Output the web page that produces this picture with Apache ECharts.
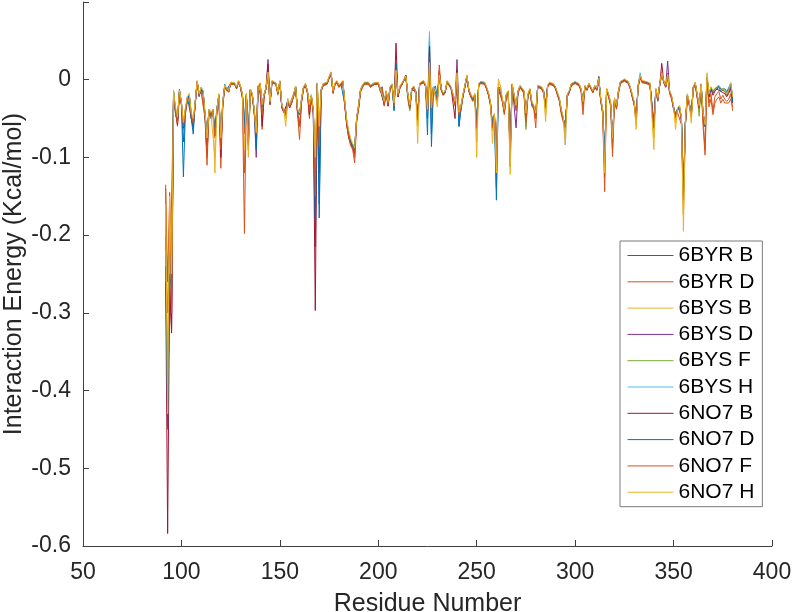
<!DOCTYPE html>
<html>
<head>
<meta charset="utf-8">
<script src="https://cdn.jsdelivr.net/npm/echarts@6/dist/echarts.min.js"></script>
<style>
  html, body { margin: 0; padding: 0; background: #fff; }
  #chart { width: 793px; height: 612px; }
</style>
</head>
<body>
<div id="chart"></div>
<script>
// residues run consecutively from 92 to 380
const firstResidue = 92

const seriesNames = ['6BYR B', '6BYR D', '6BYS B', '6BYS D', '6BYS F', '6BYS H', '6NO7 B', '6NO7 D', '6NO7 F', '6NO7 H']

const byrB = [-.21,-.247,-.22,-.16,
  -.018,-.045,-.055,-.012,-.03,-.125,-.042,-.022,-.02,-.05,
  -.07,-.028,-.004,-.022,-.01,-.014,-.048,-.065,-.042,-.05,
  -.038,-.065,-.036,-.022,-.075,-.028,-.006,-.012,-.014,-.005,
  -.006,-.004,-.012,-.002,-.01,-.022,-.05,-.018,-.075,-.012,
  -.018,-.04,-.065,-.008,-.006,-.03,-.018,-.012,.01,-.028,
  -.003,-.004,-.006,-.018,-.003,-.036,-.042,-.045,-.028,-.032,
  -.03,-.018,-.01,-.038,-.042,-.028,-.012,-.005,-.016,-.03,
  -.02,-.045,-.215,-.006,-.178,-.015,-.005,-.006,-.004,.002,
  .008,-.016,-.006,-.003,-.009,-.005,-.003,-.032,-.058,-.068,
  -.082,-.08,-.085,-.052,-.032,-.012,-.007,-.004,-.006,-.004,
  -.007,-.006,-.004,-.005,-.005,-.013,-.009,-.032,-.016,-.028,
  -.01,-.007,-.04,.021,-.022,-.01,-.006,-.004,.003,-.018,
  -.033,-.012,-.01,-.016,-.045,-.006,-.004,-.002,-.008,-.071,
  .055,-.086,-.012,-.008,-.022,.004,-.013,-.02,-.016,-.003,
  -.007,-.011,-.012,-.028,.007,-.06,-.038,-.022,-.009,.004,
  -.014,-.022,-.026,-.018,-.055,-.007,-.003,-.003,-.005,-.012,
  -.02,-.032,-.058,-.048,-.155,-.012,-.009,-.028,-.042,-.022,
  -.016,-.09,-.007,-.006,-.038,-.016,-.009,-.011,-.016,-.042,
  -.022,-.013,-.032,-.033,-.04,-.009,-.007,-.011,-.016,-.032,
  -.009,-.005,-.004,-.007,-.011,-.013,-.027,-.042,-.052,-.065,
  -.022,-.016,-.007,-.005,-.004,-.005,-.007,-.013,-.028,-.009,
  -.013,-.006,-.011,-.016,-.009,-.013,.004,-.027,-.042,-.095,
  -.014,-.022,-.032,-.07,-.027,-.033,-.016,-.004,-.003,-.001,
  -.002,-.004,-.011,-.022,-.032,-.048,-.009,.004,-.003,-.004,
  -.004,-.005,-.006,-.007,-.055,-.014,-.027,-.006,.006,-.003,
  -.009,.005,-.016,-.024,-.038,-.046,-.04,-.036,-.052,-.14,
  -.058,-.022,-.032,-.043,-.012,-.005,-.022,-.036,-.008,-.044,
  -.055,.002,-.022,-.012,-.017,-.014,-.012,-.01,-.015,-.014,
  -.012,-.018,-.02,-.008,-.03]

const byrD = [-.135,-.45,-.145,-.3,
  -.02,-.038,-.06,-.018,-.032,-.055,-.045,-.028,-.022,-.048,
  -.06,-.032,-.003,-.018,-.015,-.016,-.05,-.11,-.038,-.042,
  -.045,-.075,-.042,-.02,-.114,-.035,-.01,-.014,-.016,-.006,
  -.007,-.006,-.011,-.003,-.01,-.025,-.198,-.022,-.07,-.015,
  -.022,-.045,-.06,-.01,-.006,-.064,-.022,-.011,.006,-.032,
  -.004,-.005,-.006,-.016,-.004,-.035,-.04,-.048,-.03,-.036,
  -.03,-.022,-.012,-.045,-.077,-.03,-.012,-.008,-.018,-.05,
  -.025,-.04,-.12,-.008,-.08,-.015,-.008,-.006,-.006,.001,
  .006,-.018,-.007,-.004,-.01,-.008,-.004,-.035,-.06,-.075,
  -.085,-.09,-.107,-.055,-.038,-.016,-.01,-.006,-.007,-.006,
  -.01,-.008,-.006,-.006,-.006,-.015,-.012,-.034,-.018,-.034,
  -.012,-.008,-.032,.012,-.022,-.011,-.007,-.006,.006,-.022,
  -.038,-.015,-.011,-.018,-.055,-.007,-.005,-.004,-.009,-.045,
  .018,-.045,-.012,-.01,-.028,.019,-.014,-.02,-.017,-.004,
  -.008,-.012,-.012,-.034,.005,-.048,-.04,-.022,-.01,.003,
  -.015,-.022,-.028,-.022,-.065,-.008,-.005,-.004,-.006,-.012,
  -.02,-.034,-.065,-.05,-.11,-.012,-.01,-.028,-.045,-.024,
  -.018,-.095,-.008,-.007,-.04,-.018,-.01,-.012,-.018,-.06,
  -.022,-.014,-.034,-.038,-.062,-.01,-.008,-.012,-.018,-.038,
  -.01,-.006,-.006,-.008,-.012,-.014,-.028,-.045,-.055,-.062,
  -.022,-.017,-.008,-.006,-.005,-.006,-.008,-.015,-.045,-.01,
  -.014,-.007,-.012,-.017,-.01,-.014,-.002,-.028,-.045,-.144,
  -.015,-.022,-.034,-.099,-.028,-.038,-.018,-.005,-.004,-.002,
  -.003,-.005,-.012,-.022,-.033,-.055,-.01,.002,-.004,-.005,
  -.005,-.006,-.007,-.008,-.065,-.015,-.028,-.007,.01,-.004,
  -.01,.003,-.018,-.025,-.038,-.05,-.042,-.04,-.058,-.174,
  -.06,-.025,-.034,-.048,-.013,-.006,-.024,-.038,-.01,-.05,
  -.09,.001,-.03,-.018,-.04,-.022,-.018,-.015,-.025,-.02,
  -.025,-.028,-.025,-.018,-.04]

const bysB = [-.17,-.43,-.2,-.25,
  -.014,-.042,-.048,-.015,-.028,-.058,-.038,-.024,-.018,-.044,
  -.052,-.03,-.002,-.02,-.012,-.016,-.044,-.086,-.04,-.044,
  -.042,-.1,-.04,-.018,-.078,-.03,-.008,-.012,-.015,-.004,
  -.005,-.005,-.01,-.002,-.008,-.02,-.07,-.02,-.085,-.012,
  -.02,-.042,-.072,-.009,-.004,-.036,-.02,-.01,.008,-.03,
  -.002,-.003,-.005,-.018,-.002,-.034,-.04,-.05,-.026,-.034,
  -.028,-.02,-.009,-.04,-.045,-.026,-.01,-.006,-.015,-.034,
  -.021,-.04,-.13,-.005,-.07,-.013,-.006,-.005,-.004,.003,
  .008,-.015,-.005,-.002,-.008,-.006,-.002,-.03,-.055,-.068,
  -.078,-.085,-.092,-.05,-.034,-.013,-.008,-.004,-.005,-.004,
  -.008,-.006,-.005,-.004,-.004,-.012,-.01,-.03,-.015,-.03,
  -.01,-.006,-.034,.01,-.02,-.009,-.005,-.004,.004,-.02,
  -.035,-.012,-.009,-.015,-.06,-.005,-.003,-.002,-.007,-.04,
  .02,-.04,-.01,-.008,-.03,.005,-.012,-.018,-.015,-.002,
  -.006,-.01,-.01,-.03,.008,-.045,-.035,-.02,-.008,.005,
  -.013,-.02,-.025,-.02,-.08,-.006,-.003,-.002,-.004,-.01,
  -.018,-.03,-.065,-.045,-.1,-.005,-.008,-.025,-.04,-.02,
  -.015,-.105,-.006,-.005,-.035,-.015,-.008,-.01,-.015,-.045,
  -.02,-.012,-.03,-.035,-.045,-.008,-.006,-.01,-.015,-.045,
  -.008,-.004,-.004,-.006,-.01,-.012,-.025,-.04,-.05,-.07,
  -.02,-.015,-.006,-.004,-.003,-.004,-.006,-.012,-.03,-.008,
  -.012,-.005,-.01,-.015,-.008,-.012,.001,-.025,-.04,-.11,
  -.012,-.02,-.03,-.075,-.025,-.035,-.015,-.003,-.002,0,
  -.001,-.003,-.01,-.02,-.03,-.058,-.008,.005,-.002,-.003,
  -.003,-.004,-.005,-.006,-.075,-.012,-.025,-.005,.008,-.002,
  -.008,.006,-.015,-.022,-.035,-.055,-.038,-.035,-.05,-.17,
  -.055,-.02,-.03,-.05,-.01,-.004,-.02,-.035,-.006,-.045,
  -.06,.006,-.02,-.01,-.015,-.012,-.01,-.008,-.012,-.012,
  -.015,-.02,-.015,-.005,-.03]

const bysD = [-.2,-.44,-.26,-.32,
  -.016,-.04,-.052,-.014,-.03,-.062,-.04,-.026,-.02,-.046,
  -.056,-.03,-.002,-.021,-.012,-.015,-.046,-.07,-.04,-.046,
  -.04,-.072,-.04,-.02,-.082,-.03,-.008,-.012,-.015,-.004,
  -.006,-.005,-.01,-.002,-.009,-.02,-.06,-.02,-.09,-.013,
  -.02,-.04,-.1,-.009,-.005,-.035,-.02,-.01,.026,-.03,
  -.002,-.003,-.005,-.017,-.002,-.034,-.04,-.043,-.026,-.034,
  -.028,-.02,-.009,-.04,-.045,-.026,-.01,-.006,-.015,-.034,
  -.021,-.04,-.12,-.005,-.08,-.013,-.006,-.005,-.004,.003,
  .01,-.015,-.005,-.002,-.008,-.006,-.002,-.03,-.055,-.07,
  -.08,-.085,-.09,-.05,-.034,-.013,-.008,-.004,-.005,-.004,
  -.008,-.006,-.005,-.004,-.004,-.012,-.01,-.03,-.015,-.03,
  -.01,-.006,-.035,.015,-.02,-.009,-.005,-.004,.004,-.02,
  -.035,-.012,-.009,-.015,-.05,-.005,-.003,-.002,-.007,-.04,
  .02,-.04,-.01,-.008,-.025,.005,-.012,-.018,-.015,-.002,
  -.006,-.01,-.01,-.03,.026,-.045,-.035,-.02,-.008,.005,
  -.013,-.02,-.025,-.02,-.06,-.006,-.003,-.002,-.004,-.01,
  -.018,-.03,-.06,-.045,-.1,-.01,-.008,-.025,-.04,-.02,
  -.015,-.112,-.006,-.005,-.062,-.015,-.008,-.01,-.015,-.045,
  -.02,-.012,-.03,-.035,-.045,-.008,-.006,-.01,-.015,-.035,
  -.008,-.004,-.004,-.006,-.01,-.012,-.025,-.04,-.05,-.06,
  -.02,-.015,-.006,-.004,-.003,-.004,-.006,-.012,-.03,-.008,
  -.012,-.005,-.01,-.015,-.008,-.012,.001,-.025,-.04,-.1,
  -.012,-.02,-.03,-.075,-.025,-.035,-.015,-.003,-.002,0,
  -.001,-.003,-.01,-.02,-.03,-.05,-.008,.005,-.002,-.003,
  -.003,-.004,-.005,-.006,-.06,-.012,-.025,-.005,.008,-.002,
  -.008,.024,-.015,-.022,-.035,-.045,-.038,-.035,-.05,-.15,
  -.055,-.02,-.03,-.045,-.01,-.004,-.02,-.035,-.006,-.045,
  -.06,.003,-.02,-.01,-.015,-.012,-.01,-.008,-.012,-.012,
  -.015,-.02,-.015,-.005,-.025]

const bysF = [-.19,-.3,-.22,-.27,
  -.015,-.04,-.05,-.015,-.03,-.06,-.04,-.025,-.02,-.045,
  -.055,-.03,-.002,-.02,-.012,-.015,-.045,-.07,-.04,-.045,
  -.04,-.07,-.04,-.02,-.08,-.03,-.008,-.012,-.015,-.004,
  -.006,-.005,-.01,-.002,-.009,-.02,-.06,-.02,-.08,-.013,
  -.02,-.04,-.07,-.009,-.005,-.035,-.02,-.01,.009,-.03,
  -.002,-.003,-.005,-.02,-.002,-.034,-.04,-.043,-.026,-.034,
  -.028,-.02,-.009,-.04,-.045,-.026,-.01,-.006,-.015,-.034,
  -.021,-.04,-.11,-.005,-.07,-.013,-.006,-.005,-.004,.003,
  .009,-.015,-.005,-.002,-.008,-.006,-.002,-.03,-.055,-.07,
  -.08,-.085,-.09,-.05,-.034,-.013,-.008,-.004,-.005,-.004,
  -.008,-.006,-.005,-.004,-.004,-.012,-.01,-.03,-.015,-.03,
  -.01,-.006,-.035,.01,-.02,-.009,-.005,-.004,.004,-.026,
  -.04,-.012,-.009,-.015,-.05,-.005,-.003,-.002,-.007,-.04,
  .02,-.04,-.01,-.008,-.025,.005,-.012,-.018,-.015,-.002,
  -.006,-.01,-.01,-.03,.008,-.045,-.035,-.02,-.008,.005,
  -.013,-.02,-.025,-.02,-.06,-.006,-.003,-.002,-.004,-.01,
  -.018,-.03,-.06,-.045,-.1,-.01,-.008,-.025,-.04,-.02,
  -.015,-.09,-.006,-.005,-.035,-.015,-.008,-.01,-.015,-.064,
  -.02,-.012,-.03,-.035,-.045,-.008,-.006,-.01,-.015,-.035,
  -.008,-.004,-.004,-.006,-.01,-.012,-.025,-.04,-.05,-.06,
  -.02,-.015,-.006,-.004,-.003,-.004,-.006,-.012,-.03,-.008,
  -.012,-.005,-.01,-.015,-.008,-.012,.001,-.025,-.04,-.1,
  -.012,-.02,-.03,-.075,-.025,-.035,-.015,-.003,-.002,0,
  -.001,-.003,-.01,-.02,-.03,-.05,-.008,.005,-.002,-.003,
  -.003,-.004,-.005,-.006,-.06,-.012,-.025,-.005,.008,-.002,
  -.008,.006,-.015,-.022,-.035,-.045,-.038,-.035,-.05,-.15,
  -.055,-.02,-.03,-.045,-.01,-.004,-.02,-.047,-.006,-.045,
  -.06,.003,-.02,-.01,-.015,-.012,-.01,-.008,-.012,-.012,
  -.015,-.02,-.015,-.005,-.025]

const bysH = [-.22,-.26,-.18,-.28,
  -.017,-.042,-.05,-.016,-.03,-.065,-.042,-.025,-.02,-.048,
  -.058,-.03,-.003,-.02,-.012,-.015,-.045,-.068,-.04,-.045,
  -.04,-.068,-.04,-.02,-.078,-.03,-.008,-.012,-.015,-.004,
  -.006,-.005,-.01,-.002,-.009,-.02,-.055,-.02,-.078,-.013,
  -.02,-.04,-.068,-.009,-.005,-.035,-.02,-.01,.01,-.03,
  -.002,-.003,-.005,-.017,-.002,-.034,-.04,-.043,-.026,-.034,
  -.028,-.02,-.009,-.04,-.045,-.026,-.01,-.006,-.015,-.034,
  -.021,-.04,-.12,-.005,-.075,-.013,-.006,-.005,-.004,.003,
  .009,-.015,-.005,-.002,-.008,-.006,-.002,-.03,-.055,-.07,
  -.08,-.085,-.09,-.05,-.034,-.013,-.008,-.004,-.005,-.004,
  -.008,-.006,-.005,-.004,-.004,-.012,-.01,-.03,-.015,-.03,
  -.01,-.006,-.035,.015,-.02,-.009,-.005,-.004,.004,-.02,
  -.035,-.012,-.009,-.015,-.05,-.005,-.003,-.002,-.007,-.05,
  .062,-.05,-.01,-.008,-.025,.005,-.012,-.018,-.015,-.002,
  -.006,-.01,-.01,-.03,.008,-.045,-.035,-.02,-.008,.005,
  -.013,-.02,-.025,-.02,-.06,-.006,-.003,-.002,-.004,-.01,
  -.018,-.03,-.06,-.045,-.12,-.01,-.008,-.025,-.04,-.02,
  -.015,-.095,-.006,-.005,-.035,-.015,-.008,-.01,-.015,-.045,
  -.02,-.012,-.03,-.035,-.045,-.008,-.006,-.01,-.015,-.035,
  -.008,-.004,-.004,-.006,-.01,-.012,-.025,-.04,-.05,-.084,
  -.02,-.015,-.006,-.004,-.003,-.004,-.006,-.012,-.03,-.008,
  -.012,-.005,-.01,-.015,-.008,-.012,.001,-.025,-.04,-.1,
  -.012,-.02,-.03,-.075,-.025,-.035,-.015,-.003,-.002,0,
  -.001,-.003,-.01,-.02,-.03,-.05,-.008,.009,-.002,-.003,
  -.003,-.004,-.005,-.006,-.06,-.012,-.025,-.005,.008,-.002,
  -.008,.006,-.015,-.022,-.035,-.045,-.038,-.035,-.05,-.15,
  -.055,-.02,-.03,-.045,-.01,-.004,-.02,-.035,-.006,-.045,
  -.06,.003,-.02,-.01,-.015,-.012,-.01,-.008,-.012,-.012,
  -.012,-.015,-.01,-.004,-.02]

const no7B = [-.26,-.584,-.265,-.326,
  -.02,-.04,-.058,-.015,-.032,-.062,-.04,-.026,-.022,-.05,
  -.06,-.032,-.003,-.02,-.013,-.016,-.048,-.095,-.042,-.046,
  -.042,-.072,-.04,-.02,-.1,-.032,-.009,-.013,-.016,-.005,
  -.006,-.005,-.011,-.002,-.01,-.022,-.07,-.02,-.082,-.014,
  -.02,-.042,-.075,-.009,-.005,-.06,-.02,-.01,.02,-.032,
  -.003,-.004,-.005,-.018,-.003,-.036,-.042,-.044,-.028,-.036,
  -.03,-.02,-.01,-.042,-.06,-.028,-.011,-.007,-.016,-.045,
  -.022,-.042,-.297,-.006,-.12,-.014,-.007,-.006,-.005,.002,
  .008,-.016,-.006,-.003,-.009,-.007,-.003,-.032,-.058,-.075,
  -.082,-.088,-.095,-.052,-.036,-.014,-.009,-.005,-.006,-.005,
  -.009,-.007,-.006,-.005,-.005,-.013,-.011,-.032,-.016,-.034,
  -.011,-.007,-.03,.047,-.022,-.01,-.006,-.005,.006,-.02,
  -.036,-.013,-.01,-.016,-.05,-.006,-.004,-.003,-.008,-.04,
  .043,-.04,-.011,-.009,-.026,.01,-.013,-.019,-.016,-.003,
  -.007,-.011,-.011,-.05,.012,-.045,-.036,-.021,-.009,.004,
  -.014,-.021,-.026,-.021,-.06,-.007,-.004,-.003,-.005,-.011,
  -.019,-.031,-.06,-.046,-.1,-.011,-.009,-.026,-.041,-.021,
  -.016,-.09,-.007,-.006,-.036,-.016,-.009,-.011,-.016,-.046,
  -.021,-.013,-.031,-.036,-.046,-.009,-.007,-.011,-.016,-.036,
  -.009,-.005,-.005,-.007,-.011,-.013,-.026,-.041,-.051,-.06,
  -.021,-.016,-.007,-.005,-.004,-.005,-.007,-.013,-.031,-.009,
  -.013,-.006,-.011,-.016,-.009,-.013,0,-.026,-.041,-.11,
  -.013,-.021,-.031,-.075,-.026,-.036,-.016,-.004,-.003,-.001,
  -.002,-.004,-.011,-.021,-.031,-.05,-.009,.004,-.003,-.004,
  -.004,-.005,-.006,-.007,-.06,-.013,-.026,-.006,.021,-.003,
  -.009,.008,-.016,-.023,-.036,-.046,-.039,-.036,-.051,-.15,
  -.056,-.021,-.031,-.046,-.011,-.005,-.021,-.036,-.007,-.05,
  -.06,.002,-.022,-.012,-.02,-.015,-.012,-.01,-.015,-.014,
  -.018,-.022,-.018,-.01,-.03]

const no7D = [-.24,-.447,-.25,-.27,
  -.016,-.04,-.052,-.016,-.03,-.08,-.04,-.024,-.02,-.05,
  -.062,-.03,-.003,-.02,-.012,-.015,-.046,-.07,-.04,-.045,
  -.04,-.07,-.04,-.02,-.08,-.03,-.008,-.012,-.015,-.004,
  -.006,-.005,-.01,-.002,-.009,-.02,-.06,-.02,-.08,-.013,
  -.02,-.04,-.09,-.009,-.005,-.035,-.02,-.01,.009,-.03,
  -.002,-.003,-.005,-.017,-.002,-.034,-.04,-.043,-.026,-.034,
  -.028,-.02,-.009,-.04,-.045,-.026,-.01,-.006,-.015,-.034,
  -.021,-.04,-.18,-.005,-.16,-.013,-.006,-.005,-.004,.003,
  .009,-.015,-.005,-.002,-.008,-.006,-.002,-.03,-.055,-.07,
  -.08,-.085,-.09,-.05,-.034,-.013,-.008,-.004,-.005,-.004,
  -.008,-.006,-.005,-.004,-.004,-.012,-.01,-.03,-.015,-.03,
  -.01,-.006,-.038,.021,-.02,-.009,-.005,-.004,.004,-.02,
  -.035,-.012,-.009,-.015,-.05,-.005,-.003,-.002,-.007,-.05,
  .03,-.07,-.01,-.008,-.025,.005,-.012,-.018,-.015,-.002,
  -.006,-.01,-.01,-.03,.008,-.06,-.035,-.02,-.008,.005,
  -.013,-.02,-.025,-.02,-.06,-.006,-.003,-.002,-.004,-.01,
  -.018,-.03,-.06,-.045,-.14,-.01,-.008,-.025,-.04,-.02,
  -.015,-.095,-.006,-.005,-.035,-.015,-.008,-.01,-.015,-.045,
  -.02,-.012,-.03,-.035,-.045,-.008,-.006,-.01,-.015,-.035,
  -.008,-.004,-.004,-.006,-.01,-.012,-.025,-.04,-.05,-.06,
  -.02,-.015,-.006,-.004,-.003,-.004,-.006,-.012,-.03,-.008,
  -.012,-.005,-.01,-.015,-.008,-.012,.004,-.025,-.04,-.1,
  -.012,-.02,-.03,-.075,-.025,-.035,-.015,-.003,-.002,0,
  -.001,-.003,-.01,-.02,-.03,-.05,-.008,.005,-.002,-.003,
  -.003,-.004,-.005,-.006,-.06,-.012,-.025,-.005,.008,-.002,
  -.008,.006,-.015,-.022,-.035,-.045,-.038,-.035,-.05,-.15,
  -.055,-.02,-.03,-.045,-.01,-.004,-.02,-.035,-.006,-.045,
  -.06,.003,-.02,-.01,-.015,-.012,-.01,-.008,-.012,-.012,
  -.012,-.016,-.014,-.006,-.028]

const no7F = [-.14,-.26,-.155,-.3,
  -.02,-.042,-.055,-.016,-.032,-.06,-.042,-.026,-.022,-.046,
  -.056,-.032,-.003,-.02,-.014,-.016,-.048,-.1,-.04,-.046,
  -.042,-.072,-.042,-.02,-.09,-.032,-.009,-.013,-.016,-.005,
  -.007,-.006,-.011,-.003,-.01,-.022,-.12,-.021,-.078,-.014,
  -.021,-.042,-.07,-.01,-.006,-.045,-.021,-.011,.006,-.031,
  -.003,-.004,-.006,-.018,-.003,-.035,-.041,-.045,-.028,-.035,
  -.029,-.021,-.01,-.042,-.06,-.028,-.011,-.007,-.016,-.04,
  -.022,-.041,-.15,-.006,-.085,-.014,-.007,-.006,-.005,.002,
  .007,-.016,-.006,-.003,-.009,-.007,-.003,-.032,-.058,-.072,
  -.084,-.088,-.1,-.053,-.036,-.015,-.009,-.005,-.006,-.005,
  -.009,-.007,-.006,-.005,-.005,-.014,-.011,-.032,-.017,-.032,
  -.011,-.007,-.034,.012,-.021,-.01,-.006,-.005,.005,-.021,
  -.037,-.013,-.01,-.016,-.052,-.006,-.004,-.003,-.008,-.042,
  .02,-.042,-.011,-.009,-.027,.012,-.013,-.019,-.016,-.003,
  -.007,-.011,-.011,-.032,.006,-.046,-.037,-.021,-.009,.004,
  -.014,-.021,-.027,-.021,-.062,-.007,-.004,-.003,-.005,-.011,
  -.019,-.032,-.062,-.047,-.105,-.011,-.009,-.027,-.042,-.022,
  -.016,-.095,-.007,-.006,-.037,-.016,-.009,-.011,-.016,-.055,
  -.021,-.013,-.032,-.036,-.05,-.009,-.007,-.011,-.016,-.036,
  -.009,-.005,-.005,-.007,-.011,-.013,-.026,-.042,-.052,-.062,
  -.021,-.016,-.007,-.005,-.004,-.005,-.007,-.013,-.035,-.009,
  -.013,-.006,-.011,-.016,-.009,-.013,-.001,-.026,-.042,-.125,
  -.013,-.021,-.032,-.09,-.026,-.036,-.016,-.004,-.003,-.001,
  -.002,-.004,-.011,-.021,-.031,-.052,-.009,.003,-.003,-.004,
  -.004,-.005,-.006,-.007,-.062,-.013,-.026,-.006,.009,-.003,
  -.009,.004,-.016,-.023,-.036,-.048,-.04,-.037,-.053,-.155,
  -.057,-.022,-.032,-.047,-.012,-.005,-.022,-.037,-.008,-.06,
  -.097,-.002,-.035,-.025,-.045,-.03,-.025,-.022,-.03,-.025,
  -.03,-.032,-.03,-.025,-.035]

const no7H = [-.16,-.43,-.15,-.25,
  -.014,-.035,-.048,-.013,-.028,-.055,-.036,-.022,-.018,-.042,
  -.05,-.028,-.001,-.018,-.01,-.014,-.042,-.075,-.038,-.042,
  -.038,-.12,-.038,-.018,-.075,-.028,-.007,-.011,-.014,-.003,
  -.005,-.004,-.009,-.001,-.008,-.018,-.09,-.018,-.1,-.012,
  -.018,-.038,-.068,-.008,-.004,-.032,-.018,-.009,.01,-.028,
  -.001,-.002,-.004,-.016,-.001,-.032,-.038,-.06,-.024,-.032,
  -.026,-.018,-.008,-.038,-.043,-.024,-.009,-.005,-.014,-.032,
  -.019,-.038,-.1,-.004,-.06,-.012,-.005,-.004,-.003,.004,
  .01,-.014,-.004,-.001,-.007,-.005,-.001,-.028,-.052,-.065,
  -.076,-.082,-.088,-.048,-.032,-.012,-.007,-.003,-.004,-.003,
  -.007,-.005,-.004,-.003,-.003,-.011,-.009,-.028,-.014,-.028,
  -.009,-.005,-.03,.012,-.018,-.008,-.004,-.003,.005,-.018,
  -.032,-.011,-.008,-.014,-.082,-.004,-.002,-.001,-.006,-.038,
  .022,-.036,-.009,-.007,-.035,.006,-.011,-.017,-.014,-.001,
  -.005,-.009,-.009,-.028,.009,-.042,-.033,-.018,-.007,.006,
  -.012,-.018,-.023,-.018,-.1,-.005,-.002,-.001,-.003,-.009,
  -.016,-.028,-.082,-.043,-.12,.001,-.007,-.023,-.038,-.018,
  -.014,-.122,-.005,-.004,-.033,-.014,-.007,-.009,-.014,-.043,
  -.018,-.011,-.028,-.033,-.043,-.007,-.005,-.009,-.014,-.054,
  -.007,-.003,-.003,-.005,-.009,-.011,-.023,-.038,-.048,-.084,
  -.018,-.014,-.005,-.003,-.002,-.003,-.005,-.011,-.028,-.007,
  -.011,-.004,-.009,-.014,-.007,-.011,.002,-.023,-.038,-.12,
  -.011,-.018,-.028,-.075,-.023,-.033,-.014,-.002,-.001,.001,
  0,-.002,-.009,-.018,-.028,-.064,-.007,.006,-.001,-.002,
  -.002,-.003,-.004,-.005,-.09,-.011,-.023,-.004,.009,-.001,
  -.007,.007,-.014,-.02,-.033,-.064,-.036,-.033,-.048,-.195,
  -.053,-.018,-.028,-.056,-.009,-.003,-.018,-.033,-.005,-.043,
  -.058,.009,-.018,-.009,-.014,-.011,-.009,-.007,-.011,-.011,
  -.013,-.018,-.013,-.004,-.022]

const seriesValues = [byrB, byrD, bysB, bysD, bysF, bysH, no7B, no7D, no7F, no7H]
const lineColors = ['#0072BD', '#D95319', '#EDB120', '#7E2F8E', '#77AC30', '#4DBEEE', '#A2142F', '#0072BD', '#D95319', '#EDB120']

seriesValues.forEach((arr, i) => {
  if (arr.length !== 289) throw new Error(seriesNames[i] + ' has ' + arr.length)
})

const font = "'Liberation Sans', Arial, Helvetica, sans-serif"
const textColor = '#262626'
const axisColor = '#404040'

const chart = echarts.init(document.getElementById('chart'), null, { renderer: 'canvas' })

chart.setOption({
  animation: false,
  backgroundColor: '#fff',
  grid: { left: 83, right: 21, top: 2, bottom: 66, outerBoundsMode: 'none', containLabel: false },
  legend: {
    orient: 'vertical',
    left: 620,
    top: 241,
    data: seriesNames,
    backgroundColor: '#fff',
    borderColor: '#7a7a7a',
    borderWidth: 1,
    padding: [4, 8, 4, 7],
    itemWidth: 46,
    itemHeight: 21,
    itemGap: 5.3,
    itemStyle: { opacity: 0 },
    lineStyle: { width: 1 },
    textStyle: { fontFamily: font, fontSize: 21, color: '#000', padding: [0, 0, 0, 0] }
  },
  xAxis: {
    type: 'value',
    min: 50,
    max: 400,
    interval: 50,
    name: 'Residue Number',
    nameLocation: 'middle',
    nameGap: 46,
    nameMoveOverlap: false,
    nameTextStyle: { fontFamily: font, fontSize: 25, color: textColor },
    axisLine: { onZero: false, lineStyle: { color: axisColor, width: 1 } },
    axisTick: { inside: true, length: 6, lineStyle: { color: axisColor } },
    axisLabel: { fontFamily: font, fontSize: 23, color: textColor, margin: 15 },
    splitLine: { show: false }
  },
  yAxis: {
    type: 'value',
    min: -0.6,
    max: 0.1,
    interval: 0.1,
    name: 'Interaction Energy (Kcal/mol)',
    nameLocation: 'middle',
    nameGap: 56,
    nameMoveOverlap: false,
    nameTextStyle: { fontFamily: font, fontSize: 25, color: textColor },
    axisLine: { show: true, onZero: false, lineStyle: { color: axisColor, width: 1 } },
    axisTick: { show: true, inside: true, length: 6, lineStyle: { color: axisColor } },
    axisLabel: {
      fontFamily: font,
      fontSize: 23,
      color: textColor,
      margin: 12,
      formatter: v => {
        if (v > 0.05) return ''
        if (Math.abs(v) < 1e-9) return '0'
        return String(+v.toFixed(1))
      }
    },
    splitLine: { show: false }
  },
  series: seriesValues.map((vals, i) => ({
    name: seriesNames[i],
    type: 'line',
    symbol: 'none',
    color: lineColors[i],
    lineStyle: { width: 1, color: lineColors[i] },
    data: vals.map((v, k) => [firstResidue + k, v])
  }))
})
</script>
</body>
</html>
